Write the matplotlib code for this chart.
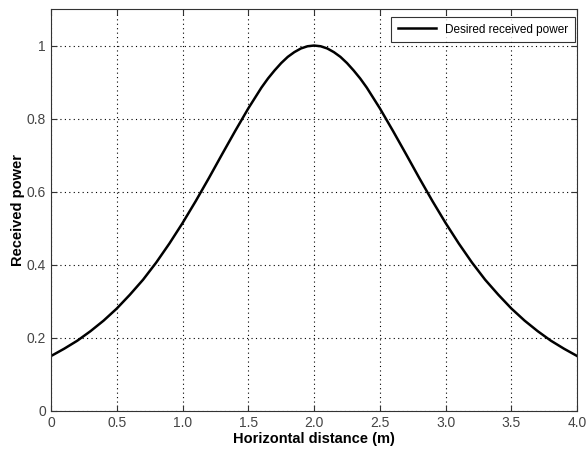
import matplotlib
matplotlib.use("Agg")
import matplotlib.pyplot as plt

# horizontal distance (m) and received power
distance = [0.0, 0.1, 0.2, 0.3, 0.4, 0.5, 0.6, 0.7, 0.8, 0.9,
            1.0, 1.1, 1.2, 1.3, 1.4, 1.5, 1.6, 1.65, 1.7, 1.75, 1.8, 1.85, 1.9, 1.95,
            2.0, 2.05, 2.1, 2.15, 2.2, 2.25, 2.3, 2.35, 2.4, 2.5, 2.6, 2.7, 2.8, 2.9,
            3.0, 3.1, 3.2, 3.3, 3.4, 3.5, 3.6, 3.7, 3.8, 3.9, 4.0]
power = [0.150, 0.170, 0.192, 0.218, 0.247, 0.280, 0.318, 0.359, 0.406, 0.458,
         0.514, 0.574, 0.637, 0.702, 0.766, 0.828, 0.885, 0.910, 0.932, 0.952, 0.969, 0.982, 0.992, 0.998,
         1.000, 0.998, 0.992, 0.982, 0.969, 0.952, 0.932, 0.910, 0.885, 0.828, 0.766, 0.702, 0.637, 0.574,
         0.514, 0.458, 0.406, 0.359, 0.318, 0.280, 0.247, 0.218, 0.192, 0.170, 0.150]

xticks = [0, 0.5, 1.0, 1.5, 2.0, 2.5, 3.0, 3.5, 4.0]
xtick_labels = ["0", "0.5", "1.0", "1.5", "2.0", "2.5", "3.0", "3.5", "4.0"]
yticks = [0, 0.2, 0.4, 0.6, 0.8, 1.0]
ytick_labels = ["0", "0.2", "0.4", "0.6", "0.8", "1"]

plt.rcParams['font.family'] = ['Liberation Sans', 'DejaVu Sans']

fig = plt.figure(figsize=(5.86, 4.5), dpi=100)
ax = fig.add_axes([0.087, 0.087, 0.898, 0.893])

ax.plot(distance, power, color='black', linewidth=1.8, label='Desired received power')

ax.set_xlim(0, 4)
ax.set_ylim(0, 1.1)
ax.set_xticks(xticks)
ax.set_xticklabels(xtick_labels)
ax.set_yticks(yticks)
ax.set_yticklabels(ytick_labels)
ax.tick_params(direction='in', top=True, right=True, length=4,
               labelsize=10, colors='#333333', labelcolor='#444444')
ax.grid(True, linestyle=(0, (1, 3)), color='black', linewidth=0.8)
for s in ax.spines.values():
    s.set_color('#333333')

ax.set_xlabel('Horizontal distance (m)', fontsize=10.5, fontweight='bold', labelpad=2)
ax.set_ylabel('Received power', fontsize=10.5, fontweight='bold', labelpad=1)

leg = ax.legend(loc='upper right', bbox_to_anchor=(0.995, 0.98), fontsize=8.5,
                frameon=True, fancybox=False, borderpad=0.55, handlelength=3.2,
                borderaxespad=0.0)
leg.get_frame().set_edgecolor('black')
leg.get_frame().set_linewidth(0.8)

fig.savefig('out.png', dpi=100)
